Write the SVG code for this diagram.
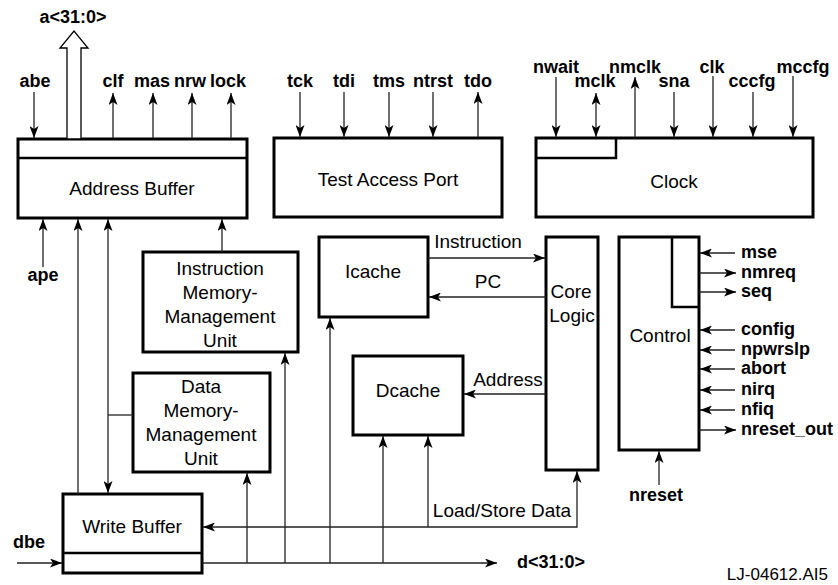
<svg xmlns="http://www.w3.org/2000/svg" width="838" height="585" viewBox="0 0 838 585">
<defs>
<marker id="ah" viewBox="0 0 12 9" refX="12" refY="4.5" markerWidth="12" markerHeight="9" markerUnits="userSpaceOnUse" orient="auto-start-reverse"><path d="M0,0 L12,4.5 L0,9 L3,4.5 z" fill="#000"/></marker>
</defs>
<style>
.box{fill:#fff;stroke:#000;stroke-width:3}
.div{fill:none;stroke:#000;stroke-width:2.5}
.ln{fill:none;stroke:#222;stroke-width:1.3}
.ar{marker-end:url(#ah)}
.ar2{marker-start:url(#ah);marker-end:url(#ah)}
.t{font-family:"Liberation Sans",Arial,sans-serif;font-size:19px;fill:#000;text-anchor:middle}
.b{font-family:"Liberation Sans",Arial,sans-serif;font-size:18px;font-weight:bold;fill:#000;text-anchor:middle}
.l{text-anchor:start}
</style>
<rect width="838" height="585" fill="#fff"/>

<g id="address-buffer">
<rect class="box" x="18" y="139" width="229" height="79"/>
<path class="div" d="M18,158H247"/>
<text class="t" x="132" y="195">Address Buffer</text>
</g>
<g id="test-access-port">
<rect class="box" x="274" y="138" width="228" height="79"/>
<text class="t" x="388" y="186">Test Access Port</text>
</g>
<g id="clock">
<rect class="box" x="536" y="138" width="277" height="79"/>
<path class="div" d="M536,158H616V138"/>
<text class="t" x="674" y="188">Clock</text>
</g>
<g id="immu">
<rect class="box" x="143" y="252" width="155" height="100"/>
<text class="t" x="220" y="275">Instruction</text>
<text class="t" x="220" y="299">Memory-</text>
<text class="t" x="220" y="323">Management</text>
<text class="t" x="220" y="347">Unit</text>
</g>
<g id="dmmu">
<rect class="box" x="133" y="373" width="137" height="99"/>
<text class="t" x="201" y="393">Data</text>
<text class="t" x="201" y="417">Memory-</text>
<text class="t" x="201" y="441">Management</text>
<text class="t" x="201" y="465">Unit</text>
</g>
<g id="write-buffer">
<rect class="box" x="63" y="494" width="139" height="79"/>
<path class="div" d="M63,553H202"/>
<text class="t" x="132" y="533">Write Buffer</text>
</g>
<g id="icache">
<rect class="box" x="319" y="237" width="109" height="80"/>
<text class="t" x="373" y="278">Icache</text>
</g>
<g id="dcache">
<rect class="box" x="353" y="356" width="110" height="79"/>
<text class="t" x="408" y="397">Dcache</text>
</g>
<g id="core-logic">
<rect class="box" x="546" y="237" width="52" height="233"/>
<text class="t" x="571" y="298">Core</text>
<text class="t" x="572" y="322">Logic</text>
</g>
<g id="control">
<rect class="box" x="619" y="237" width="80" height="213"/>
<path class="div" d="M672,237V307H699"/>
<text class="t" x="660" y="342">Control</text>
</g>

<g id="connectors">
<polygon points="67,139 67,48 60,48 74,31 88,48 81,48 81,139" fill="#fff" stroke="#000" stroke-width="1.3"/>
<path class="ln ar" d="M34,92V138"/>
<path class="ln ar" d="M113,138V93"/>
<path class="ln ar" d="M153,138V93"/>
<path class="ln ar" d="M192,138V93"/>
<path class="ln ar" d="M231,138V93"/>
<path class="ln ar" d="M300,92V137"/>
<path class="ln ar" d="M344,92V137"/>
<path class="ln ar" d="M389,92V137"/>
<path class="ln ar" d="M433,92V137"/>
<path class="ln ar" d="M478,137V92"/>
<path class="ln ar" d="M556,77V137"/>
<path class="ln ar2" d="M596,93V137"/>
<path class="ln ar" d="M635,137V77"/>
<path class="ln ar" d="M674,92V137"/>
<path class="ln ar" d="M713,76V137"/>
<path class="ln ar" d="M753,92V137"/>
<path class="ln ar" d="M793,76V137"/>
<path class="ln ar" d="M43,267V219"/>
<path class="ln ar" d="M78,494V219"/>
<path class="ln ar2" d="M108,219V493"/>
<path class="ln" d="M108,415H133"/>
<path class="ln ar" d="M222,252V219"/>
<path class="ln ar" d="M247,563V473"/>
<path class="ln ar" d="M285,563V353"/>
<path class="ln ar" d="M330,563V318"/>
<path class="ln ar" d="M383,563V436"/>
<path class="ln ar" d="M428,527V436"/>
<path class="ln ar2" d="M203,527H577V471"/>
<path class="ln ar" d="M17,563H62"/>
<path class="ln ar" d="M202,563H497"/>
<path class="ln ar" d="M428,258H545"/>
<path class="ln ar" d="M546,297H429"/>
<path class="ln ar" d="M546,394H464"/>
<path class="ln ar" d="M735,253H700"/>
<path class="ln ar" d="M699,273H736"/>
<path class="ln ar" d="M699,292H736"/>
<path class="ln ar" d="M735,330H700"/>
<path class="ln ar" d="M735,350H700"/>
<path class="ln ar" d="M735,369H700"/>
<path class="ln ar" d="M735,390H700"/>
<path class="ln ar" d="M735,410H700"/>
<path class="ln ar" d="M699,430H736"/>
<path class="ln ar" d="M659,485V451"/>
</g>

<g id="connector-labels">
<text class="t" x="478" y="248">Instruction</text>
<text class="t" x="488" y="288">PC</text>
<text class="t" x="508" y="386">Address</text>
<text class="t" x="502" y="517">Load/Store Data</text>
</g>

<g id="signal-labels">
<text class="b" x="73" y="23">a&lt;31:0&gt;</text>
<text class="b" x="35" y="87">abe</text>
<text class="b" x="113" y="87">clf</text>
<text class="b" x="152" y="87">mas</text>
<text class="b" x="190" y="87">nrw</text>
<text class="b" x="228" y="87">lock</text>
<text class="b" x="300" y="87">tck</text>
<text class="b" x="344" y="87">tdi</text>
<text class="b" x="389" y="87">tms</text>
<text class="b" x="433" y="87">ntrst</text>
<text class="b" x="478" y="87">tdo</text>
<text class="b" x="556" y="73">nwait</text>
<text class="b" x="595" y="87">mclk</text>
<text class="b" x="635" y="73">nmclk</text>
<text class="b" x="674" y="87">sna</text>
<text class="b" x="712" y="73">clk</text>
<text class="b" x="752" y="87">cccfg</text>
<text class="b" x="803" y="73">mccfg</text>
<text class="b" x="43" y="281">ape</text>
<text class="b" x="29" y="548">dbe</text>
<text class="b l" x="517" y="568">d&lt;31:0&gt;</text>
<text class="b l" x="741" y="258">mse</text>
<text class="b l" x="741" y="278">nmreq</text>
<text class="b l" x="741" y="297">seq</text>
<text class="b l" x="741" y="335">config</text>
<text class="b l" x="741" y="355">npwrslp</text>
<text class="b l" x="741" y="374">abort</text>
<text class="b l" x="741" y="395">nirq</text>
<text class="b l" x="741" y="415">nfiq</text>
<text class="b l" x="741" y="435">nreset_out</text>
<text class="b" x="656" y="501">nreset</text>
<text class="t" x="828" y="580" style="text-anchor:end;font-size:17px">LJ-04612.AI5</text>
</g>
</svg>
